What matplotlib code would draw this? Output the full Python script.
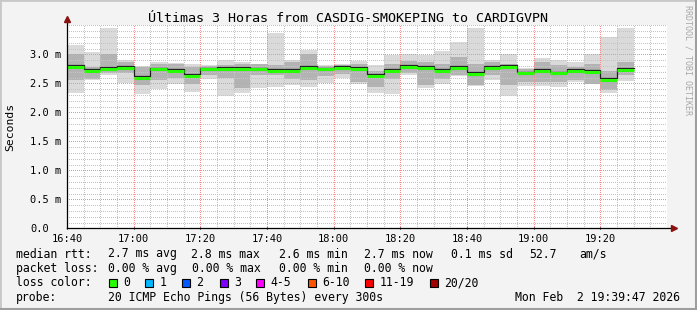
import numpy as np
import matplotlib
matplotlib.use('Agg')
import matplotlib.pyplot as plt
from matplotlib.patches import Rectangle
from matplotlib.ticker import MultipleLocator, FixedLocator
import matplotlib.transforms as mtransforms

# smokeping rtt per 5 min bin (ms), starting 16:40
med = [2.78, 2.71, 2.75, 2.76, 2.60, 2.74, 2.72, 2.63, 2.74, 2.75, 2.75, 2.74,
       2.72, 2.71, 2.76, 2.74, 2.77, 2.75, 2.63, 2.71, 2.78, 2.77, 2.72, 2.76,
       2.66, 2.76, 2.78, 2.67, 2.71, 2.67, 2.72, 2.70, 2.56, 2.73]
rtt_max = [3.16, 3.04, 3.46, 2.91, 2.80, 2.86, 2.85, 2.84, 2.81, 2.91, 2.87, 2.84,
           3.37, 2.90, 3.07, 2.81, 2.83, 2.88, 2.81, 2.98, 3.00, 2.98, 3.05, 3.22,
           3.46, 2.90, 3.00, 2.77, 2.93, 2.91, 2.87, 3.00, 3.30, 3.46]
rtt_min = [2.34, 2.55, 2.64, 2.51, 2.31, 2.41, 2.49, 2.35, 2.58, 2.28, 2.33, 2.42,
           2.44, 2.47, 2.43, 2.51, 2.60, 2.49, 2.34, 2.31, 2.64, 2.42, 2.49, 2.62,
           2.45, 2.55, 2.28, 2.46, 2.45, 2.44, 2.52, 2.48, 2.34, 2.54]
mid_hi = [3.01, 2.78, 3.01, 2.87, 2.78, 2.84, 2.84, 2.78, 2.79, 2.81, 2.84, 2.84,
          2.81, 2.87, 3.00, 2.79, 2.81, 2.84, 2.72, 2.84, 2.89, 2.87, 2.84, 2.95,
          2.84, 2.87, 2.84, 2.74, 2.87, 2.81, 2.78, 2.84, 2.72, 2.87]
mid_lo = [2.55, 2.58, 2.67, 2.67, 2.47, 2.55, 2.60, 2.49, 2.64, 2.59, 2.42, 2.64,
          2.64, 2.58, 2.55, 2.62, 2.66, 2.52, 2.44, 2.58, 2.67, 2.47, 2.58, 2.64,
          2.47, 2.64, 2.47, 2.52, 2.52, 2.52, 2.55, 2.49, 2.38, 2.64]

x_ticks = [0, 20, 40, 60, 80, 100, 120, 140, 160]
x_labels = ['16:40', '17:00', '17:20', '17:40', '18:00', '18:20', '18:40', '19:00', '19:20']
y_ticks = [0.0, 0.5, 1.0, 1.5, 2.0, 2.5, 3.0]
y_labels = ['0.0', '0.5 m', '1.0 m', '1.5 m', '2.0 m', '2.5 m', '3.0 m']

rtt_row = ['2.7 ms avg', '2.8 ms max', '2.6 ms min', '2.7 ms now', '0.1 ms sd', '52.7', 'am/s']
loss_row = ['0.00 % avg', '0.00 % max', '0.00 % min', '0.00 % now']
loss_names = ['0', '1', '2', '3', '4-5', '6-10', '11-19', '20/20']
loss_colors = ['#26ff00', '#00b8ff', '#0059ff', '#7e00ff', '#ff00ff', '#ff5500', '#ff0000', '#a00000']

W, H = 697, 310
MONO = 'DejaVu Sans Mono'

def fx(x):
    return x / W

def fy(y):
    return 1 - y / H

fig = plt.figure(figsize=(W / 100, H / 100), dpi=100, facecolor='#f3f3f3')
ax = fig.add_axes([fx(67), fy(228.3), 600 / W, (228.3 - 25.3) / H])
ax.set_facecolor('white')

starts = np.arange(len(med)) * 5
lo = np.array(rtt_min)
ax.bar(starts, np.array(rtt_max) - lo, bottom=lo, width=5, align='edge',
       color='#dadada', linewidth=0)
ax.bar(starts, np.array(mid_hi) - np.array(mid_lo), bottom=mid_lo, width=5,
       align='edge', color='#b3b3b3', linewidth=0)

# median: dark step line just above a green band
up = mtransforms.offset_copy(ax.transData, fig=fig, x=0, y=1.8, units='dots')
ax.plot(np.append(starts, starts[-1] + 5), np.append(med, med[-1]),
        drawstyle='steps-post', color='#202020', lw=0.9, transform=up, zorder=3)
ax.hlines(med, starts, starts + 5, colors='#26ff00', lw=2.2, zorder=4)

ax.set_xlim(0, 180)
ax.set_ylim(0, 3.5)
ax.xaxis.set_major_locator(FixedLocator(x_ticks))
ax.xaxis.set_minor_locator(MultipleLocator(5))
ax.yaxis.set_major_locator(FixedLocator(y_ticks))
ax.yaxis.set_minor_locator(MultipleLocator(0.1))
ax.set_xticklabels(x_labels, fontfamily=MONO, fontsize=7.5)
ax.set_yticklabels(y_labels, fontfamily=MONO, fontsize=7.5)
for t in ax.get_yticklabels():
    t.set_horizontalalignment('left')
ax.tick_params(axis='y', which='both', length=0, pad=26.5)
ax.tick_params(axis='x', which='major', length=2, pad=3, direction='inout')
ax.tick_params(axis='x', which='minor', length=0)

ax.set_axisbelow('line')
ax.grid(which='minor', color='#c4c4c4', lw=0.72, linestyle=(0, (1, 2)), antialiased=False)
ax.grid(which='major', color='#ff8c8c', lw=0.72, linestyle=(0, (1, 2)), antialiased=False)

for s in ax.spines.values():
    s.set_visible(False)
ax.plot([0, 0], [0, 1.025], transform=ax.transAxes, color='black', lw=0.9, clip_on=False, zorder=5)
ax.plot([0, 1.01], [0, 0], transform=ax.transAxes, color='black', lw=0.9, clip_on=False, zorder=5)
ax.plot([0], [1.03], marker='^', ms=5, color='#8b1010', transform=ax.transAxes, clip_on=False, zorder=6)
ax.plot([1.012], [0], marker='>', ms=5, color='#8b1010', transform=ax.transAxes, clip_on=False, zorder=6)

fig.text(0.5, fy(19), 'Últimas 3 Horas from CASDIG-SMOKEPING to CARDIGVPN',
         ha='center', va='center', fontfamily=MONO, fontsize=9.6)
fig.text(fx(10), fy(127), 'Seconds', rotation=90, ha='center', va='center',
         fontfamily=MONO, fontsize=8.2)
fig.text(fx(688), fy(60), 'RRDTOOL / TOBI OETIKER', rotation=270, ha='center',
         va='center', fontfamily=MONO, fontsize=6, color='#a8a8a8')

# legend block
leg = dict(fontfamily=MONO, fontsize=8.3, va='center', ha='left')
fig.text(fx(16), fy(254), 'median rtt:', **leg)
for xp, s in zip([107.6, 191, 279, 364, 451, 529, 579], rtt_row):
    fig.text(fx(xp), fy(254), s, **leg)
fig.text(fx(16), fy(268.5), 'packet loss:', **leg)
for xp, s in zip([107.6, 192, 279, 364], loss_row):
    fig.text(fx(xp), fy(268.5), s, **leg)
fig.text(fx(16), fy(283), 'loss color:', **leg)
box_x = [109, 145, 182, 219.5, 256, 307.5, 365, 430]
for bx, name, c in zip(box_x, loss_names, loss_colors):
    fig.add_artist(Rectangle((fx(bx), fy(287)), 8 / W, 8 / H, transform=fig.transFigure,
                             facecolor=c, edgecolor='black', lw=0.8))
    fig.text(fx(bx + 14.5), fy(283), name, **leg)
fig.text(fx(16), fy(297.5), 'probe:', **leg)
fig.text(fx(107.6), fy(297.5), '20 ICMP Echo Pings (56 Bytes) every 300s', **leg)
fig.text(fx(680), fy(297.5), 'Mon Feb  2 19:39:47 2026', fontfamily=MONO,
         fontsize=8.3, va='center', ha='right')

# frame shading
fig.add_artist(Rectangle((0, 0), 1, 1, transform=fig.transFigure, fill=False,
                         edgecolor='#c8c8c8', lw=2))
fig.add_artist(plt.Line2D([0, 1], [fy(308.5), fy(308.5)], transform=fig.transFigure,
                          color='#9e9e9e', lw=2.2))
fig.add_artist(plt.Line2D([fx(695.5), fx(695.5)], [0, 1], transform=fig.transFigure,
                          color='#9e9e9e', lw=2.2))

fig.savefig('out.png', dpi=100, facecolor=fig.get_facecolor())
